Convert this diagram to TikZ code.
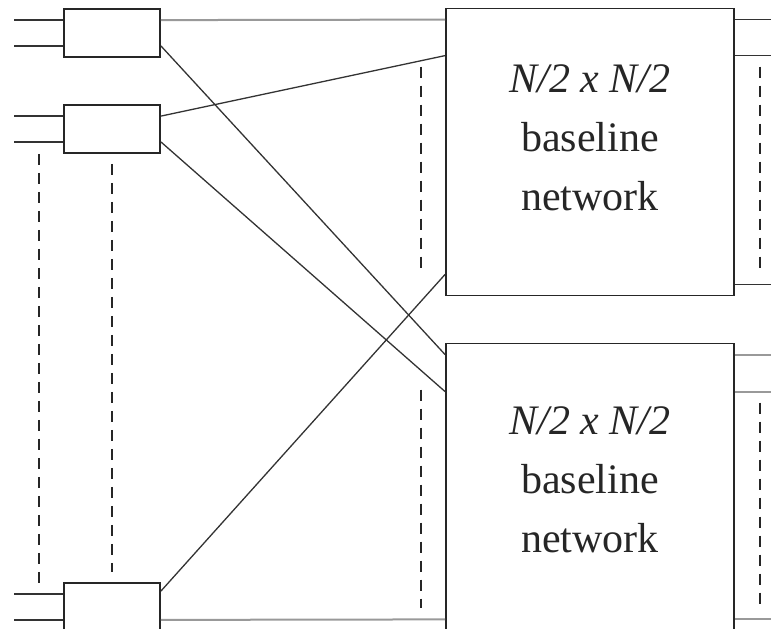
\documentclass[tikz,border=0pt]{standalone}
\usepackage{fontspec}
\setmainfont{Liberation Serif}
\usetikzlibrary{calc}

\begin{document}
\begin{tikzpicture}[
    x=1pt, y=-1pt,
    sw/.style={draw, line width=1.8pt, black!85, minimum width=96pt, minimum height=48pt, inner sep=0pt},
    bignet/.style={draw, line width=1.8pt, black!85, minimum width=288pt, minimum height=287pt, inner sep=0pt},
    nettext/.style={font=\fontsize{42}{59}\selectfont, align=center, text=black!85},
    wire/.style={line width=1.7pt, black!80},
    link/.style={line width=1.3pt, black!80},
    greywire/.style={line width=2pt, black!40},
    more/.style={line width=1.8pt, black!85, dash pattern=on 11pt off 8pt}
]
\clip (0,0) rectangle (771,629);

% --- switches on the left ---
\node[sw] (sw1) at (112,33) {};
\node[sw] (sw2) at (112,129) {};
\node[sw] (sw3) at (112,607) {};

% --- the two half size networks ---
\node[bignet] (netA) at (590,152) {};
\node[bignet] (netB) at (590,487) {};
\node[nettext] (labA) at (590,138) {\textit{N/2 x N/2}\\baseline\\network};
\node[nettext] (labB) at (590,480) {\textit{N/2 x N/2}\\baseline\\network};

% --- inputs ---
\foreach \s in {sw1,sw2,sw3}{
  \draw[wire] ([yshift=-12pt]\s.north west) -- ++(-49,0);
  \draw[wire] ([yshift=12pt]\s.south west) -- ++(-49,0);
}

% --- shuffle links ---
\draw[greywire] ([yshift=-12pt]sw1.north east) -- ([yshift=-12pt]netA.north west);
\draw[link] ([yshift=12pt]sw1.south east) -- ([yshift=-12pt]netB.north west);
\draw[link] ([yshift=-12pt]sw2.north east) -- ([yshift=-48pt]netA.north west);
\draw[link] ([yshift=12pt]sw2.south east) -- ([yshift=-49pt]netB.north west);
\draw[link] ([yshift=-9pt]sw3.north east) -- ([yshift=22pt]netA.south west);
\draw[greywire] ([yshift=12pt]sw3.south east) -- ([yshift=12pt]netB.south west);

% --- outputs ---
\draw[wire] ([yshift=-12pt]netA.north east) -- ++(40,0);
\draw[wire] ([yshift=-48pt]netA.north east) -- ++(40,0);
\draw[wire] ([yshift=12pt]netA.south east) -- ++(40,0);
\draw[greywire] ([yshift=-12pt]netB.north east) -- ++(40,0);
\draw[greywire] ([yshift=-49pt]netB.north east) -- ++(40,0);
\draw[greywire] ([yshift=12pt]netB.south east) -- ++(40,0);

% --- dots for the rest ---
\draw[more] ($(sw2.south west)+(-24,0)$) -- ($(sw3.north west)+(-24,2)$);
\draw[more] ($(sw2.south)+(0,10)$) -- ($(sw3.north)+(0,-10)$);
\draw[more] ($(netA.north west)+(-24,59)$) -- ($(netA.south west)+(-24,-25)$);
\draw[more] ($(netB.north west)+(-24,47)$) -- ($(netB.south west)+(-24,-23)$);
\draw[more] ($(netA.north east)+(25,59)$) -- ($(netA.south east)+(25,-25)$);
\draw[more] ($(netB.north east)+(25,60)$) -- ($(netB.south east)+(25,-26)$);

\end{tikzpicture}
\end{document}
